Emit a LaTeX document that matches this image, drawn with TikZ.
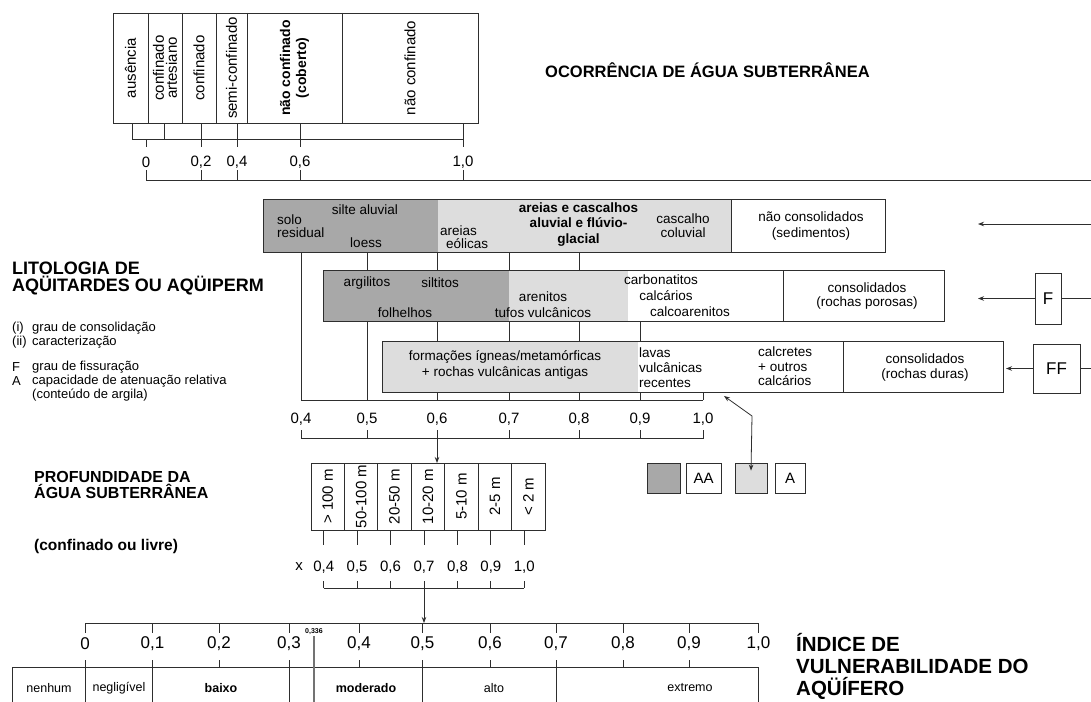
\documentclass[tikz,border=0pt]{standalone}
\usepackage{fontspec}
\setmainfont{Liberation Sans}
\usetikzlibrary{arrows.meta}
\definecolor{dkfill}{HTML}{A8A8A8}
\definecolor{ltfill}{HTML}{DDDDDD}
\definecolor{lncol}{HTML}{2E2E2E}
\begin{document}
\begin{tikzpicture}[x=1pt,y=-1pt]
\tikzset{
 ln/.style={draw=lncol, line width=0.8pt},
 arr/.style={ln, -{Stealth[length=6pt,width=4.5pt]}},
 tx/.style={inner sep=0pt, font=\fontsize{13.5}{15}\selectfont, align=center},
 txl/.style={inner sep=0pt, anchor=west, align=left, font=\fontsize{13.5}{15}\selectfont},
 sc/.style={inner sep=0pt, font=\fontsize{15}{15}\selectfont},
 isc/.style={inner sep=0pt, font=\fontsize{17}{17}\selectfont},
 rl/.style={inner sep=0pt, rotate=90, font=\fontsize{15}{13}\selectfont, align=center},
 ttl/.style={inner sep=0pt, anchor=west, align=left, font=\fontsize{18}{17}\selectfont\bfseries},
 lst/.style={inner sep=0pt, anchor=west, font=\fontsize{13}{13}\selectfont},
 lbox/.style={ln, inner sep=0pt, font=\fontsize{17}{17}\selectfont},
 ibx/.style={inner sep=0pt, font=\fontsize{12.5}{12.5}\selectfont},
}
\useasboundingbox[fill=white] (0,0) rectangle (1091,701);

% ---------------- top: occurrence ----------------
\draw[ln] (113,13) rectangle (478,123);
\foreach \x in {148,182,216,247,342} {\draw[ln] (\x,13) -- (\x,123);}
\node[rl] (oc1) at (130.5,68) {ausência};
\node[rl] (oc2) at (165,68) {confinado\\artesiano};
\node[rl] (oc3) at (199,68) {confinado};
\node[rl] (oc4) at (231.5,68) {semi-confinado};
\node[rl, font=\fontsize{14}{16}\selectfont\bfseries] (oc5) at (294.5,68) {não confinado\\(coberto)};
\node[rl] (oc6) at (410,68) {não confinado};
\draw[ln] (132,123) -- (132,139) -- (463,139);
\foreach \x in {164,201,237,300,463} {\draw[ln] (\x,123) -- (\x,139);}
\foreach \x in {146,201,237,300,463} {\draw[ln] (\x,139) -- (\x,147); \draw[ln] (\x,170) -- (\x,180);}
\draw[ln] (146,180) -- (1091,180);
\node[sc] at (146,162) {0};
\node[sc] at (201,162) {0,2};
\node[sc] at (237,162) {0,4};
\node[sc] at (300,162) {0,6};
\node[sc] at (463,162) {1,0};
\node[inner sep=0pt, anchor=west, font=\fontsize{16.5}{16}\selectfont\bfseries] (tocc) at (545,70) {OCORRÊNCIA DE ÁGUA SUBTERRÂNEA};

% ---------------- right side arrows ----------------
\coordinate (r1) at (1091,224);
\coordinate (e1) at (978,224);
\draw[arr] (r1) -- (e1);
\node[lbox, minimum width=26pt, minimum height=51pt] (F) at (1048,298.5) {F};
\coordinate (r2) at (1091,298.5);
\coordinate (e2) at (978,298.5);
\draw[ln] (r2) -- (F.east);
\draw[arr] (F.west) -- (e2);
\node[lbox, minimum width=47pt, minimum height=49pt] (FF) at (1056.5,368.5) {FF};
\coordinate (r3) at (1091,368.5);
\coordinate (e3) at (1006,368.5);
\draw[ln] (r3) -- (FF.east);
\draw[arr] (FF.west) -- (e3);

% ---------------- lithology rows ----------------
\fill[dkfill] (263,199) rectangle (438,252);
\fill[ltfill] (438,199) rectangle (731,252);
\draw[ln] (263,199) rectangle (885,252);
\draw[ln] (731,199) -- (731,252);

\fill[dkfill] (323,270) rectangle (509,321);
\fill[ltfill] (509,270) rectangle (628,321);
\draw[ln] (323,270) rectangle (944,321);
\draw[ln] (783,270) -- (783,321);

\fill[ltfill] (382,341) rectangle (638,392);
\draw[ln] (382,341) rectangle (1003,392);
\draw[ln] (843,341) -- (843,392);

% row 1 texts
\node[txl, font=\fontsize{13.5}{13}\selectfont] at (277,226.5) {solo\\residual};
\node[tx] at (365,210) {silte aluvial};
\node[tx] at (366,243) {loess};
\node[txl] at (440,231) {areias};
\node[txl] at (446,244) {eólicas};
\node[tx, font=\fontsize{13.5}{15.5}\selectfont\bfseries] at (578.5,224.5) {areias e cascalhos\\aluvial e flúvio-\\glacial};
\node[tx, font=\fontsize{13.5}{14}\selectfont] at (683,226) {cascalho\\coluvial};
\node[tx, font=\fontsize{13.5}{16}\selectfont] at (811,226) {não consolidados\\(sedimentos)};
% row 2 texts
\node[tx] at (367,283) {argilitos};
\node[tx] at (440,283) {siltitos};
\node[tx] at (405,313) {folhelhos};
\node[tx] at (543,297) {arenitos};
\node[tx] at (543,313) {tufos vulcânicos};
\node[tx] at (661,280) {carbonatitos};
\node[tx] at (666,296) {calcários};
\node[tx] at (690,312) {calcoarenitos};
\node[tx, font=\fontsize{13.5}{14.5}\selectfont] at (867,296) {consolidados\\(rochas porosas)};
% row 3 texts
\node[tx, font=\fontsize{13.5}{16}\selectfont] at (505,365) {formações ígneas/metamórficas\\+ rochas vulcânicas antigas};
\node[txl, font=\fontsize{13.5}{15}\selectfont] at (639,368) {lavas\\vulcânicas\\recentes};
\node[txl, font=\fontsize{13.5}{14.5}\selectfont] at (758,366.5) {calcretes\\+ outros\\calcários};
\node[tx, font=\fontsize{13.5}{15}\selectfont] at (925,367.5) {consolidados\\(rochas duras)};

% verticals and scale 0.4 - 1.0
\draw[ln] (301,252) -- (301,400);
\foreach \x in {367,437,509,579} {\draw[ln] (\x,252) -- (\x,270);}
\draw[ln] (367,321) -- (367,400);
\foreach \x in {437,509,579,640} {\draw[ln] (\x,321) -- (\x,341); \draw[ln] (\x,392) -- (\x,400);}
\draw[ln] (703,392) -- (703,400);
\draw[ln] (301,400) -- (703,400);
\foreach \x/\t in {301/{0,4},367/{0,5},437/{0,6},509/{0,7},579/{0,8},640/{0,9},703/{1,0}} {\node[sc] at (\x,419) {\t};}
\draw[ln] (301,430) -- (301,438) -- (703,438) -- (703,430);
\foreach \x in {367,437,509,579,640} {\draw[ln] (\x,430) -- (\x,438);}

% legend + double arrow
\node[ln, fill=dkfill, minimum width=33pt, minimum height=30pt, inner sep=0pt] (gAA) at (663.5,478) {};
\node[lbox, font=\fontsize{15}{15}\selectfont, minimum width=35pt, minimum height=30pt] (tAA) at (703.5,478) {AA};
\node[ln, fill=ltfill, minimum width=32pt, minimum height=30pt, inner sep=0pt] (gA) at (751,478) {};
\node[lbox, font=\fontsize{15}{15}\selectfont, minimum width=30pt, minimum height=30pt] (tA) at (790,478) {A};
\coordinate (dA) at (724,396);
\coordinate (dB) at (752,416);
\draw[ln, {Stealth[length=6pt,width=4.5pt]}-{Stealth[length=6pt,width=4.5pt]}] (dA) -- (dB) -- ([yshift=-8pt]gA.north);

% left text block
\node[ttl] (tlit) at (12,278.5) {LITOLOGIA DE\\AQÜITARDES OU AQÜIPERM};
\node[lst] at (12,328) {(i)};
\node[lst] at (32,328) {grau de consolidação};
\node[lst] at (12,342) {(ii)};
\node[lst] at (32,342) {caracterização};
\node[lst] at (12,367) {F};
\node[lst] at (32,367) {grau de fissuração};
\node[lst] at (12,381) {A};
\node[lst] at (32,381) {capacidade de atenuação relativa};
\node[lst] at (32,395) {(conteúdo de argila)};

% ---------------- depth ----------------
\node[ttl, font=\fontsize{16}{15.5}\selectfont\bfseries] (tdep) at (34,485) {PROFUNDIDADE DA\\ÁGUA SUBTERRÂNEA};
\node[ttl, font=\fontsize{15.5}{15}\selectfont\bfseries] at (34,546) {(confinado ou livre)};
\draw[ln] (311,463) rectangle (545,530);
\foreach \i in {1,...,6} {\draw[ln] ({311+\i*33.43},463) -- ({311+\i*33.43},530);}
\foreach \i/\t in {1/{> 100 m},2/{50-100 m},3/{20-50 m},4/{10-20 m},5/{5-10 m},6/{2-5 m},7/{< 2 m}} {\node[rl] at ({311+(\i-0.5)*33.43},496.5) {\t};}
\foreach \i/\t in {1/{0,4},2/{0,5},3/{0,6},4/{0,7},5/{0,8},6/{0,9},7/{1,0}} {
  \draw[ln] ({311+(\i-0.5)*33.43-4},530) -- ({311+(\i-0.5)*33.43-4},545);
  \node[sc] at ({311+(\i-0.5)*33.43-4},567) {\t};
  \draw[ln] ({311+(\i-0.5)*33.43-4},581) -- ({311+(\i-0.5)*33.43-4},588);
}
\node[sc] at (299,567) {x};
\draw[ln] ({311+0.5*33.43-4},588) -- ({311+6.5*33.43-4},588);
\draw[arr] (437,438) -- (437,463);

% ---------------- index ----------------
\draw[arr] (424,588) -- (424,623);
\draw[ln] (85,623) -- (758.5,623);
\foreach \x/\t in {85/0,152.5/{0,1},219/{0,2},289/{0,3},359/{0,4},422.5/{0,5},490/{0,6},556/{0,7},623/{0,8},689/{0,9},758.5/{1,0}} {
  \draw[ln] (\x,623) -- (\x,633);
  \node[isc] at (\x,644) {\t};
}
\node[inner sep=0pt, font=\fontsize{7}{7}\selectfont\bfseries] at (314,632) {0,336};
\draw[ln] (12.5,705) -- (12.5,667) -- (758.5,667) -- (758.5,705);
\foreach \x in {85,152.5,289,422.5,556} {\draw[ln] (\x,660) -- (\x,705);}
\foreach \x in {219,359,490,623,689} {\draw[ln] (\x,660) -- (\x,667);}
\draw[draw=black!55, line width=1.6pt] (314,636) -- (314,705);
\node[ibx] at (49,688) {nenhum};
\node[ibx] at (119,688) {negligível};
\node[ibx, font=\fontsize{12.5}{12.5}\selectfont\bfseries] at (221,688) {baixo};
\node[ibx, font=\fontsize{12.5}{12.5}\selectfont\bfseries] at (366,688) {moderado};
\node[ibx] at (494,688) {alto};
\node[ibx] at (690,688) {extremo};
\node[ttl, font=\fontsize{20.5}{22}\selectfont\bfseries] (tind) at (796,666) {ÍNDICE DE\\VULNERABILIDADE DO\\AQÜÍFERO};
\end{tikzpicture}
\end{document}
